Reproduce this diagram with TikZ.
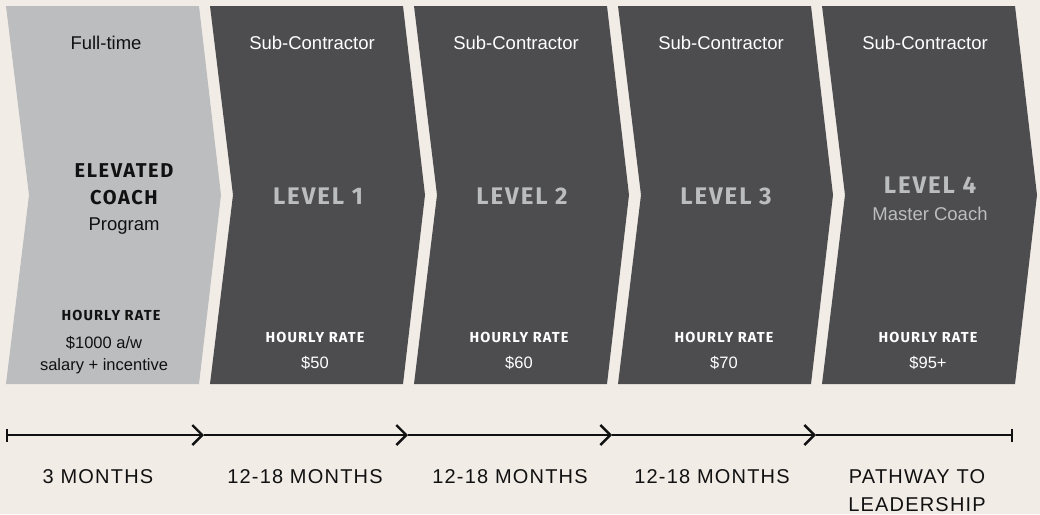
\documentclass[tikz,border=0pt]{standalone}
\usepackage{fontspec}
\setmainfont{Liberation Sans}
\newfontfamily\headfont[LetterSpace=8]{Fira Sans}
\newfontfamily\timefont[LetterSpace=6]{Liberation Sans}
\usetikzlibrary{arrows.meta, positioning}
\definecolor{paper}{HTML}{F2ECE7}
\definecolor{lightchev}{HTML}{BCBDBF}
\definecolor{darkchev}{HTML}{4D4D4F}
\definecolor{ink}{HTML}{111111}

\begin{document}
\begin{tikzpicture}[x=1pt, y=-1pt,
    toptext/.style={anchor=base, font=\fontsize{18.5}{22}\selectfont},
    leveltext/.style={anchor=base, text=lightchev, font=\headfont\bfseries\fontsize{24}{28}\selectfont},
    ratetext/.style={anchor=base, font=\headfont\bfseries\fontsize{14.5}{16}\selectfont},
    paytext/.style={anchor=base, font=\fontsize{16.5}{20}\selectfont},
    timetext/.style={anchor=base, text=ink, inner sep=0pt, text depth=0pt, font=\timefont\fontsize{20}{29}\selectfont},
    timeline/.style={draw=ink, line width=2.4pt}]
    % Career pathway chevrons
    \fill[paper] (0,0) rectangle (1040,514);
    \useasboundingbox (0,0) rectangle (1040,514);
    \foreach \x/\c in {6/lightchev, 210/darkchev, 414/darkchev, 618/darkchev, 822/darkchev}
        \fill[\c] (\x,6) -- ++(193,0) -- ++(22,189) -- ++(-22,189) -- ++(-193,0) -- ++(23,-189) -- cycle;

    \node[toptext, text=ink] (full) at (106,49) {Full-time};
    \foreach \n/\x in {1/312, 2/516, 3/721, 4/925}
        \node[toptext, text=white] (sub\n) at (\x,49) {Sub-Contractor};

    \node[leveltext, text=ink, font=\headfont\bfseries\fontsize{20}{24}\selectfont] (elev) at (124,177) {ELEVATED};
    \node[leveltext, text=ink, font=\headfont\bfseries\fontsize{20}{24}\selectfont] (coach) at (124,204) {COACH};
    \node[toptext, text=ink] (prog) at (124,230) {Program};
    \foreach \n/\x in {1/318, 2/522, 3/726}
        \node[leveltext] (lvl\n) at (\x,204) {LEVEL \n};
    \node[leveltext] (lvl4) at (930,193) {LEVEL 4};
    \node[toptext, text=lightchev] (master) at (930,220) {Master Coach};

    \node[ratetext, text=ink] (rate0) at (111,320) {HOURLY RATE};
    \node[paytext, text=ink] (pay0) at (104,348) {\$1000 a/w};
    \node[paytext, text=ink] (bonus) at (104,370) {salary + incentive};
    \foreach \n/\x/\p in {1/315/\$50, 2/519/\$60, 3/724/\$70, 4/928/\$95+} {
        \node[ratetext, text=white] (rate\n) at (\x,342) {HOURLY RATE};
        \node[paytext, text=white] (pay\n) at (\x,368) {\p};
    }

    % timeline
    \coordinate (t0) at (6,435);
    \coordinate (t1) at (204,435);
    \coordinate (t2) at (408,435);
    \coordinate (t3) at (612,435);
    \coordinate (t4) at (816,435);
    \coordinate (t5) at (1013,435);
    \draw[timeline, {Bar[width=13pt]}-{Straight Barb[length=10pt, width=20pt]}] (t0) -- (t1);
    \draw[timeline, -{Straight Barb[length=10pt, width=20pt]}] (t1) -- (t2);
    \draw[timeline, -{Straight Barb[length=10pt, width=20pt]}] (t2) -- (t3);
    \draw[timeline, -{Straight Barb[length=10pt, width=20pt]}] (t3) -- (t4);
    \draw[timeline, -{Bar[width=13pt]}] (t4) -- (t5);

    \node[timetext] (dur1) at (98,483) {3 MONTHS};
    \node[timetext] (dur2) at (305,483) {12-18 MONTHS};
    \node[timetext] (dur3) at (510,483) {12-18 MONTHS};
    \node[timetext] (dur4) at (712,483) {12-18 MONTHS};
    \node[timetext] (dur5) at (917,483) {PATHWAY TO};
    \node[timetext] (dur5b) at (917,511) {LEADERSHIP};
\end{tikzpicture}
\end{document}
